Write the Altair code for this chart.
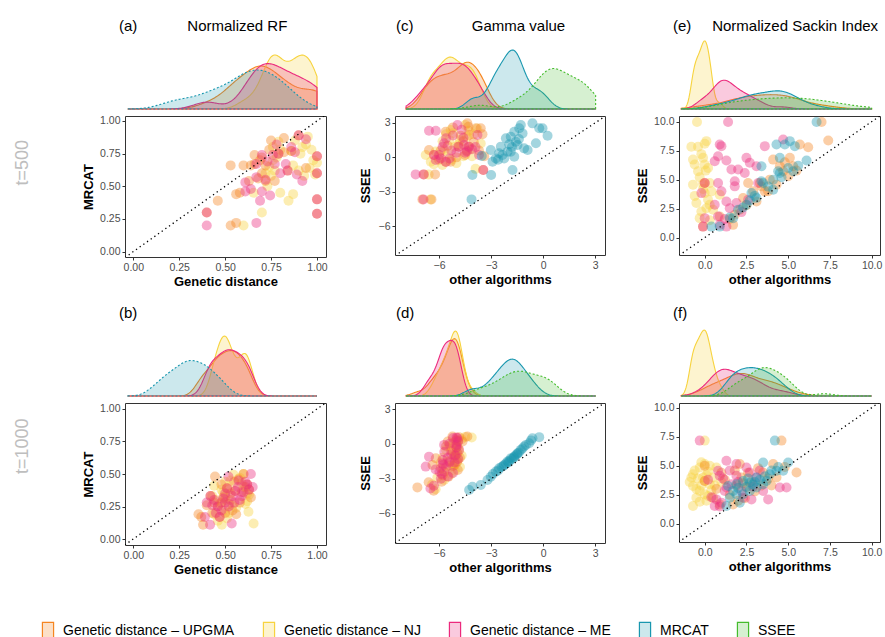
import altair as alt
import numpy as np
import pandas as pd

FONT = "Liberation Sans"
METHODS = ["Genetic distance – UPGMA", "Genetic distance – NJ", "Genetic distance – ME", "MRCAT", "SSEE"]
LINE_COLORS = ["#F58520", "#F7D33E", "#EC2A7D", "#1997AF", "#45BC2D"]
FILL_COLORS = ["rgba(245,133,32,0.25)", "rgba(247,211,62,0.25)", "rgba(236,42,125,0.25)",
               "rgba(25,151,175,0.22)", "rgba(69,188,45,0.22)"]
UP, NJ, ME, MR, SS = METHODS

# ---------------- panel (a): Normalized RF, t=500 ----------------
A_UPGMA = [(0.40,0.30),(0.46,0.39),(0.53,0.66),(0.53,0.20),(0.56,0.22),(0.56,0.44),(0.60,0.66),(0.64,0.66),
           (0.63,0.54),(0.66,0.74),(0.66,0.67),(0.70,0.60),(0.72,0.54),(0.75,0.85),(0.82,0.87),(0.74,0.78),
           (0.79,0.75),(0.82,0.76),(0.77,0.54),(0.84,0.62),(0.90,0.89),(0.94,0.64),(1.00,0.73),(1.00,0.60),
           (1.00,0.40),(1.00,0.29),(0.86,0.77),(0.70,0.72),(0.72,0.66),(0.69,0.70),(0.58,0.45),(0.68,0.56)]
A_NJ = [(0.60,0.20),(0.70,0.30),(0.655,0.45),(0.80,0.45),(0.845,0.39),(0.87,0.44),(0.94,0.82),(0.86,0.77),
        (0.72,0.60),(0.75,0.58),(0.99,0.59),(0.76,0.80),(0.78,0.72),(0.76,0.70),(0.74,0.65),(0.88,0.85),
        (0.92,0.80),(0.96,0.64),(0.90,0.62),(0.73,0.50),(0.97,0.78),(0.80,0.78),(0.95,0.88),(0.77,0.62),
        (1.00,0.68),(0.91,0.75),(0.98,0.70),(0.93,0.58),(0.79,0.84),(0.87,0.66)]
A_ME = [(0.40,0.30),(0.40,0.20),(0.61,0.53),(0.61,0.46),(0.67,0.22),(0.69,0.39),(0.70,0.46),(0.745,0.43),
        (0.67,0.67),(0.67,0.57),(0.73,0.69),(0.76,0.74),(0.77,0.67),(0.83,0.67),(0.80,0.60),(0.84,0.62),
        (0.89,0.59),(0.92,0.54),(0.90,0.89),(0.94,0.86),(0.88,0.76),(0.79,0.75),(1.00,0.73),(1.00,0.60),
        (1.00,0.40),(1.00,0.29),(0.70,0.74),(0.64,0.48),(0.72,0.55),(0.78,0.82),(0.86,0.80)]

# ---------------- panel (b): Normalized RF, t=1000 ----------------
B_UPGMA = [(0.445,0.48),(0.48,0.42),(0.64,0.32),(0.53,0.30),(0.56,0.19),(0.38,0.11),(0.355,0.19),(0.37,0.17),
           (0.42,0.33),(0.40,0.26),(0.46,0.25),(0.47,0.17),(0.49,0.32),(0.51,0.39),(0.555,0.37),(0.573,0.46),
           (0.60,0.50),(0.62,0.42),(0.63,0.38),(0.59,0.36),(0.52,0.27),(0.54,0.22),(0.44,0.28),(0.50,0.20),
           (0.58,0.28),(0.61,0.40),(0.55,0.44),(0.43,0.20),(0.48,0.28),(0.53,0.35)]
B_NJ = [(0.545,0.495),(0.60,0.50),(0.482,0.11),(0.627,0.21),(0.655,0.12),(0.56,0.24),(0.44,0.19),(0.43,0.33),
        (0.50,0.30),(0.50,0.44),(0.52,0.38),(0.58,0.47),(0.47,0.27),(0.51,0.16),(0.44,0.41),(0.62,0.35),
        (0.49,0.22),(0.62,0.29),(0.60,0.40),(0.45,0.30),(0.49,0.36),(0.53,0.45),(0.50,0.33),(0.61,0.27),
        (0.46,0.14),(0.52,0.20),(0.63,0.34),(0.59,0.43),(0.48,0.38),(0.54,0.26)]
B_ME = [(0.518,0.48),(0.64,0.50),(0.59,0.33),(0.536,0.12),(0.418,0.11),(0.42,0.33),(0.40,0.28),(0.46,0.25),
        (0.47,0.17),(0.49,0.31),(0.51,0.39),(0.555,0.37),(0.573,0.45),(0.62,0.42),(0.63,0.38),(0.61,0.44),
        (0.55,0.28),(0.52,0.25),(0.44,0.30),(0.48,0.22),(0.50,0.28),(0.57,0.40),(0.60,0.36),(0.45,0.20),
        (0.54,0.33),(0.58,0.30),(0.43,0.26),(0.50,0.35),(0.65,0.40),(0.39,0.17)]

# ---------------- panel (c): Gamma value, t=500 ----------------
C_UPGMA = [(-5.62,2.23),(-4.37,2.95),(-4.31,2.66),(-3.88,2.52),(-3.6,2.52),(-4.27,1.94),(-4.75,1.88),(-6.58,0.64),
           (-6.29,0.2),(-6.87,-1.48),(-6.23,-1.48),(-6.96,-3.65),(-6.44,-3.65),(-3.46,-1.1),(-5.33,-0.38),
           (-4.85,0.93),(-4.27,0.93),(-5.62,-0.38),(-3.7,0.6),(-5.9,0.6),(-4.6,1.4),(-3.5,2.0),(-5.0,0.0),
           (-4.0,1.3),(-5.5,1.0),(-6.0,-0.2),(-4.5,0.2),(-3.4,0.1),(-4.4,0.6),(-5.2,2.6)]
C_NJ = [(-5.33,2.37),(-5.81,-0.67),(-6.48,-0.38),(-6.77,0.2),(-5.2,2.1),(-4.5,2.8),(-4.0,2.0),(-5.0,-0.5),
        (-6.2,0.5),(-5.5,0.3),(-4.2,0.7),(-5.8,1.4),(-4.8,1.5),(-3.9,-1.0),(-6.6,-1.5),(-6.5,-3.65),(-5.1,0.9),
        (-4.4,1.8),(-3.6,1.2),(-6.0,0.0),(-5.3,-0.2),(-4.6,0.1),(-3.8,2.5),(-5.6,2.0),(-4.3,2.3),(-4.9,1.1),
        (-5.4,1.5),(-6.3,-0.6),(-4.1,0.1),(-5.7,0.6)]
C_ME = [(-6.58,2.31),(-6.19,2.31),(-5.71,1.22),(-4.94,2.81),(-4.56,1.07),(-3.79,1.94),(-6.19,-0.23),(-7.35,-1.48),
        (-5.4,-0.1),(-4.1,0.7),(-5.0,0.4),(-6.0,0.2),(-5.6,-0.4),(-4.5,0.4),(-3.9,0.9),(-5.2,1.9),(-4.7,2.4),
        (-6.9,-3.65),(-6.9,-1.48),(-3.45,-1.1),(-5.9,-0.09),(-4.3,0.93),(-4.9,0.93),(-6.3,0.2),(-5.3,0.6),
        (-4.4,0.5),(-3.7,0.2),(-5.6,1.65),(-4.6,1.7),(-5.8,0.9)]
C_MRCAT = [(-4.08,-1.53),(-4.13,-3.65),(-3.0,-1.53),(-3.54,0.12),(-3.02,0.64),(-2.92,-0.38),(-2.73,-0.09),
           (-2.44,0.93),(-2.35,0.2),(-2.06,0.49),(-1.96,1.13),(-1.87,1.79),(-1.67,2.23),(-1.38,2.52),(-1.48,1.07),
           (-1.67,0.06),(-1.77,-1.1),(-1.29,2.81),(-1.19,2.08),(-0.9,0.64),(-0.62,2.95),(-0.42,1.22),(-0.23,2.52),
           (0.25,1.88),(-0.04,2.52),(-2.15,1.65),(-2.25,-0.09),(-1.87,0.49),(-2.54,0.35),(-1.58,1.36),(-1.1,0.78),
           (-1.8,0.9),(-1.4,1.6),(-2.6,-0.2)]

# ---------------- panel (d): Gamma value, t=1000 ----------------
D_UPGMA = [(-5.23,0.63),(-4.85,0.58),(-4.37,0.63),(-4.65,0.2),(-5.13,-0.95),(-4.95,-1.53),(-6.19,-1.24),
           (-4.92,-2.25),(-5.46,-2.83),(-7.25,-3.75),(-6.31,-4.04),(-6.38,-1.82),(-5.9,-2.1),(-5.85,-3.26),
           (-5.0,-0.3),(-4.95,-0.8),(-5.4,-1.5),(-5.7,-2.4),(-5.2,-1.9),(-5.05,-0.2),(-5.5,0.2),(-5.8,-2.7),
           (-4.8,-1.2),(-5.3,-0.6),(-4.9,0.3),(-5.1,-1.0),(-5.0,0.3),(-5.1,-1.8),(-6.6,-3.3),(-5.6,-0.2)]
D_NJ = [(-4.12,0.55),(-5.8,-1.2),(-5.5,-1.5),(-4.85,-0.6),(-4.7,0.4),(-5.0,-0.9),(-5.3,-2.0),(-6.1,-2.9),
        (-6.2,-3.9),(-4.9,-1.3),(-5.2,0.1),(-4.9,-0.4),(-5.8,-2.2),(-5.0,-1.6),(-5.6,-0.5),(-5.1,-1.2),
        (-4.5,0.6),(-5.9,-1.6),(-6.4,-3.5),(-4.8,-2.0),(-5.4,-0.2),(-4.95,-0.2),(-5.0,0.3),(-5.7,-3.1),
        (-4.7,-1.0),(-5.3,-2.6),(-5.2,-0.8),(-5.0,0.1),(-5.5,-1.9),(-5.1,-2.3)]
D_ME = [(-5.71,-0.09),(-6.58,-1.1),(-6.77,-1.96),(-6.5,-3.84),(-5.98,-2.39),(-4.85,-0.52),(-5.2,0.5),(-4.9,0.2),
        (-5.5,-1.2),(-5.1,-1.6),(-5.8,-1.7),(-6.2,-2.2),(-5.85,-2.6),(-5.3,-0.9),(-4.95,0.5),(-5.0,-0.1),
        (-5.05,-1.0),(-5.6,-2.0),(-5.8,-1.4),(-5.4,0.0),(-5.9,-3.0),(-6.3,-3.6),(-5.0,-0.3),(-5.2,-2.5),
        (-5.7,-0.7),(-5.0,0.55),(-5.75,-1.8),(-5.4,-1.6),(-4.9,-1.3),(-5.5,-2.8)]
D_MRCAT = [(-4.27,-3.98),(-4.08,-3.69),(-3.6,-3.55),(-3.21,-3.12),(-3.02,-2.83),(-2.9,-2.6),(-2.73,-2.39),
           (-2.6,-2.3),(-2.54,-2.1),(-2.4,-2.0),(-2.25,-1.82),(-2.15,-1.7),(-2.06,-1.53),(-1.95,-1.45),
           (-1.87,-1.24),(-1.8,-1.3),(-1.67,-1.1),(-1.6,-1.0),(-1.48,-0.81),(-1.4,-0.75),(-1.29,-0.52),
           (-1.2,-0.4),(-1.1,-0.23),(-1.0,-0.1),(-0.81,0.06),(-0.7,0.3),(-0.62,0.49),(-0.23,0.58),(-2.3,-1.9),
           (-1.7,-1.2),(-1.5,-0.9),(-2.0,-1.6)]

# ---------------- panel (e): Normalized Sackin Index, t=500 ----------------
E_UPGMA = [(7.0,9.97),(7.4,8.38),(6.2,7.8),(5.7,8.03),(4.1,6.73),(5.1,6.88),(5.3,6.16),(5.5,5.78),(4.5,6.16),
           (4.7,5.72),(3.9,5.0),(3.4,4.42),(2.6,4.71),(2.9,3.99),(2.3,3.41),(2.1,2.4),(1.8,1.97),(1.7,1.1),
           (0.9,1.82),(0.0,4.71),(-0.1,0.95),(3.1,3.12),(3.6,3.99),(4.3,4.57),(3.3,4.71),(4.8,6.5),(2.5,2.8),
           (3.8,4.0),(5.0,5.3),(1.5,1.6)]
E_NJ = [(-0.46,9.97),(-0.8,7.83),(-0.4,7.83),(0.1,8.32),(0.0,8.09),(-0.7,6.73),(-0.1,6.88),(-0.6,6.3),(0.0,6.3),
        (0.06,5.78),(-0.4,5.72),(-0.7,4.57),(-0.1,4.62),(0.3,4.71),(-0.5,2.98),(0.2,3.27),(0.1,2.54),(-0.2,2.25),
        (-0.3,1.68),(0.3,2.83),(0.0,3.84),(0.4,3.99),(0.9,3.7),(-0.3,5.2),(-0.6,3.6),(0.2,6.0),(-0.2,7.2),
        (0.3,1.5),(-0.1,4.2),(0.5,2.4)]
E_ME = [(1.4,9.97),(0.9,8.03),(1.0,7.89),(3.6,7.89),(0.8,7.02),(0.6,6.59),(1.3,6.65),(2.5,6.88),(2.7,6.45),
        (3.1,6.16),(1.6,5.87),(2.0,5.87),(2.4,5.58),(1.8,4.86),(1.8,4.42),(0.8,4.71),(1.0,3.99),(-0.2,3.84),
        (0.0,4.71),(1.3,3.12),(1.5,2.54),(1.9,2.98),(0.6,2.83),(0.8,1.82),(0.9,1.1),(1.3,0.95),(-0.1,0.95),
        (0.0,1.68),(4.7,8.47),(3.2,4.71),(2.6,3.27),(2.2,2.2),(1.2,1.6)]
E_MRCAT = [(6.7,9.97),(4.3,8.03),(4.8,8.03),(5.1,8.32),(5.4,7.89),(4.5,6.88),(6.1,6.65),(5.0,6.01),(4.4,5.72),
           (3.4,6.16),(3.4,4.86),(4.1,5.0),(3.5,4.71),(2.8,3.84),(3.1,3.41),(4.1,4.13),(2.5,2.83),(2.0,2.4),
           (1.7,1.68),(1.5,1.73),(0.4,0.95),(0.9,0.95),(2.7,3.2),(2.3,2.6),(4.5,5.58),(5.3,5.72),(3.0,3.6),
           (3.8,4.4),(4.6,5.2),(5.6,6.2)]

# ---------------- panel (f): Normalized Sackin Index, t=1000 ----------------
F_UPGMA = [(4.6,7.17),(0.0,5.0),(0.0,3.7),(0.9,1.68),(1.7,1.68),(2.1,5.15),(4.1,5.15),(5.5,4.43),(2.5,3.13),
           (3.5,4.43),(0.7,3.0),(1.2,3.8),(1.5,2.5),(1.9,3.3),(2.2,4.0),(2.4,2.2),(2.8,3.6),(3.0,2.8),(3.2,4.8),
           (3.8,3.9),(4.3,4.0),(4.8,4.9),(1.8,4.6),(2.0,2.0),(2.6,4.4),(3.4,3.3),(0.5,2.26),(1.0,4.4),(4.0,3.3),
           (2.3,3.5)]
F_NJ = [(0.0,7.17),(-0.7,4.28),(-0.3,4.86),(0.0,5.15),(-0.7,3.27),(-0.3,2.84),(0.3,3.42),(0.5,4.0),(-0.5,2.26),
        (-0.7,1.54),(0.0,2.55),(0.7,4.86),(-0.1,4.0),(-0.9,3.6),(-0.4,3.9),(0.2,4.5),(-0.2,3.3),(0.1,2.0),
        (-0.6,4.6),(0.4,2.9),(-0.2,5.3),(0.3,5.0),(-0.5,3.0),(0.0,3.7),(0.6,3.3),(-0.8,4.0),(0.2,2.4),(-0.3,1.9),
        (1.0,3.6),(0.1,4.2)]
F_ME = [(-0.3,7.17),(1.3,5.44),(1.9,5.15),(0.8,4.57),(0.9,4.14),(1.3,3.13),(1.2,2.84),(0.7,2.11),(0.6,1.54),
        (1.0,1.83),(2.3,2.26),(2.8,2.11),(3.8,2.11),(4.5,3.13),(4.9,3.13),(2.5,4.86),(2.7,4.43),(1.9,4.14),
        (1.6,3.42),(2.2,2.84),(3.1,3.99),(3.5,2.84),(0.2,3.8),(0.9,1.5),(1.5,4.6),(2.0,3.6),(2.9,3.2),(0.4,2.3),
        (1.1,3.9),(3.3,4.6)]
F_MRCAT = [(4.2,7.17),(1.3,1.54),(2.1,1.83),(1.4,3.27),(1.9,3.42),(2.3,3.7),(2.7,3.56),(3.1,4.0),(3.5,5.29),
           (3.9,4.28),(4.3,4.57),(4.7,4.57),(5.0,5.29),(3.7,3.7),(3.1,3.13),(2.3,2.55),(1.7,2.84),(2.7,2.84),
           (1.5,2.26),(3.5,3.42),(1.9,2.55),(2.9,3.4),(3.3,3.8),(2.5,3.2),(4.0,4.6),(3.6,4.1),(2.0,3.1),(3.0,3.6),
           (4.4,4.9),(2.6,3.9)]

RF_TICKS = [0, 0.25, 0.5, 0.75, 1.0]
GAMMA_TICKS = [-6, -3, 0, 3]
SACKIN_TICKS = [0, 2.5, 5, 7.5, 10]

DENS_H = 70
NBSP = "\u00a0"

LEGEND = alt.Legend(orient="none", legendX=-87, legendY=582, direction="horizontal", title=None,
                    symbolType="M-0.62,-1H0.62V1H-0.62Z", symbolSize=324, symbolStrokeWidth=1.2,
                    labelFont=FONT, labelFontSize=14, labelColor="black", labelLimit=400,
                    columnPadding=24, labelOffset=5)


def bw_nrd0(vals, n):
    v = np.asarray(vals, dtype=float)
    sd = v.std(ddof=1)
    q75, q25 = np.percentile(v, [75, 25])
    iqr = (q75 - q25) / 1.34
    lo = min(sd, iqr) if iqr > 0 else sd
    return float(0.9 * lo * n ** -0.2)


def density_chart(points, yvar, xdom, ext, width, peak_top, title_text, title_dx, adjust):
    dens_methods = [UP, NJ, ME] + ([MR] if yvar == MR else [MR, SS])
    n = len(points[UP])
    layers = []
    for m in dens_methods:
        if m == yvar:
            vals = [y for s in points for (_, y) in points[s]]
            bw = bw_nrd0(vals, n)
        else:
            vals = [x for (x, _) in points[m]]
            bw = bw_nrd0(vals, n) * (adjust if m in (UP, NJ, ME) else 1.0)
        df = pd.DataFrame({"series": [m] * len(vals), "v": vals})
        mk = dict(orient="vertical", strokeWidth=1.1)
        if m == yvar:
            mk["strokeDash"] = [2, 2]
        layer = alt.Chart(df).transform_density(
            "v", as_=["v", "density"], groupby=["series"], extent=ext, bandwidth=bw, steps=200
        ).mark_area(**mk).encode(
            x=alt.X("v:Q", scale=alt.Scale(domain=xdom, nice=False, zero=False), axis=None),
            y=alt.Y("density:Q", scale=alt.Scale(zero=True, nice=False, range=[DENS_H, peak_top]), axis=None),
            fill=alt.Fill("series:N", scale=alt.Scale(domain=METHODS, range=FILL_COLORS), legend=LEGEND),
            stroke=alt.Stroke("series:N", scale=alt.Scale(domain=METHODS, range=LINE_COLORS), legend=LEGEND),
        )
        layers.append(layer)
    return alt.layer(*layers).properties(
        width=width, height=DENS_H, view=alt.ViewBackground(stroke="transparent"),
        title=alt.TitleParams(text=title_text, anchor="start", dx=title_dx, offset=5, fontSize=15,
                              fontWeight="normal", color="black", font=FONT))


def scatter_chart(points, xdom, ydom, ticks, fmt, xtitle, ytitle, width, height, ytpad):
    rows = []
    for s in [NJ, UP, ME, MR]:
        for (x, y) in points.get(s, []):
            rows.append({"series": s, "x": x, "y": y})
    df = pd.DataFrame(rows)
    xaxis = alt.Axis(values=ticks, format=fmt, title=xtitle)
    yaxis = alt.Axis(values=ticks, format=fmt, title=ytitle, titlePadding=ytpad)
    xs = alt.Scale(domain=xdom, nice=False, zero=False)
    ys = alt.Scale(domain=ydom, nice=False, zero=False)
    pts = alt.Chart(df).mark_circle(size=100, opacity=0.4).encode(
        x=alt.X("x:Q", scale=xs, axis=xaxis),
        y=alt.Y("y:Q", scale=ys, axis=yaxis),
        color=alt.Color("series:N", scale=alt.Scale(domain=METHODS, range=LINE_COLORS), legend=None),
    )
    lo = min(xdom[0], ydom[0])
    hi = max(xdom[1], ydom[1])
    diag = alt.Chart(pd.DataFrame({"x": [lo, hi], "y": [lo, hi]})).mark_line(
        color="black", strokeDash=[1.3, 3.2], strokeWidth=1.3, clip=True
    ).encode(x=alt.X("x:Q", scale=xs, axis=xaxis), y=alt.Y("y:Q", scale=ys, axis=yaxis))
    return alt.layer(pts, diag).properties(width=width, height=height)


def panel(points, yvar, xdom, ydom, ext, ticks, fmt, xtitle, ytitle, width, height, peak_top,
          title_text, title_dx, ytpad, adjust=1.0):
    d = density_chart(points, yvar, xdom, ext, width, peak_top, title_text, title_dx, adjust)
    s = scatter_chart(points, xdom, ydom, ticks, fmt, xtitle, ytitle, width, height, ytpad)
    return alt.vconcat(d, s, spacing=3)


RF_X = [-0.045, 1.049]
GA_X = [-8.54, 3.56]
SA_X = [-1.54, 10.5]
RF_EXT = [-0.03, 1.0]
GA_EXT = [-7.9, 3.02]
SA_EXT = [-1.4, 10.0]

pa = panel({UP: A_UPGMA, NJ: A_NJ, ME: A_ME}, MR, RF_X, [-0.041, 1.038], RF_EXT, RF_TICKS, ".2f",
           "Genetic distance", "MRCAT", 201, 141, 16, "(a)" + NBSP * 12 + "Normalized RF", -6, 4)
pc = panel({UP: C_UPGMA, NJ: C_NJ, ME: C_ME, MR: C_MRCAT}, SS, GA_X, [-8.48, 3.59], GA_EXT, GAMMA_TICKS, "d",
           "other algorithms", "SSEE", 210, 139, 11, "(c)" + NBSP * 14 + "Gamma value", 1, 6)
pe = panel({UP: E_UPGMA, NJ: E_NJ, ME: E_ME, MR: E_MRCAT}, SS, SA_X, [-1.5, 10.49], SA_EXT, SACKIN_TICKS, ".1f",
           "other algorithms", "SSEE", 201, 139, 2, "(e)" + NBSP * 5 + "Normalized Sackin Index", -6, 4)
pb = panel({UP: B_UPGMA, NJ: B_NJ, ME: B_ME}, MR, RF_X, [-0.046, 1.046], RF_EXT, RF_TICKS, ".2f",
           "Genetic distance", "MRCAT", 201, 142, 10, "(b)", -6, 4)
pd_ = panel({UP: D_UPGMA, NJ: D_NJ, ME: D_ME, MR: D_MRCAT}, SS, GA_X, [-8.54, 3.52], GA_EXT, GAMMA_TICKS, "d",
            "other algorithms", "SSEE", 210, 140, 5, "(d)", 1, 6, adjust=1.3)
pf = panel({UP: F_UPGMA, NJ: F_NJ, ME: F_ME, MR: F_MRCAT}, SS, SA_X, [-1.56, 10.41], SA_EXT, SACKIN_TICKS, ".1f",
           "other algorithms", "SSEE", 201, 139, 4, "(f)", -6, 4)


def row_title(t, dx):
    return alt.TitleParams(text=t, orient="left", anchor="middle", fontSize=18, fontWeight="normal",
                           color="#BEBEBE", font=FONT, offset=50, dx=dx)


row1 = alt.hconcat(pa, pc, pe, spacing=30, title=row_title("t=500", -9))
row2 = alt.hconcat(pb, pd_, pf, spacing=30, title=row_title("t=1000", -5))

chart = alt.vconcat(row1, row2, spacing=16).properties(
    padding={"left": 14, "top": 18, "right": 0, "bottom": 0}, background="white"
).configure_axis(
    labelFont=FONT, labelFontSize=10.5, labelColor="#4D4D4D", titleFont=FONT, titleFontSize=13,
    titleFontWeight="bold", titleColor="black", tickColor="#333333", tickSize=3, domain=False,
    grid=False, labelPadding=2, titlePadding=3
).configure_view(stroke="#333333", strokeWidth=1)

chart.save("out.html", embed_options={"renderer": "svg", "actions": False})
